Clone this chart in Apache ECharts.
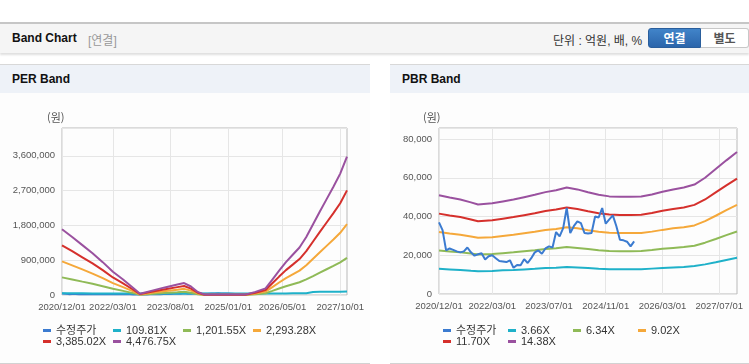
<!DOCTYPE html>
<html lang="ko">
<head>
<meta charset="utf-8" />
<title>Band Chart</title>
<style>
  body { margin: 0; width: 749px; height: 364px; overflow: hidden; background: #fff; position: relative;
         font-family: 'Liberation Sans', Arial, 'Noto Sans CJK KR', sans-serif; color: #222; }
  .bar { position: absolute; left: 0; top: 22px; width: 749px; height: 31px; background: #f5f5f5;
         border-top: 2px solid #c6c6c6; box-sizing: border-box; box-shadow: 0 2px 2px rgba(0,0,0,0.13); }
  .bar .title { position: absolute; left: 12px; top: 7px; font-size: 12px; font-weight: bold; color: #111; }
  .bar .sub { position: absolute; left: 88px; top: 7px; font-size: 12px; color: #999; }
  .bar .unit { position: absolute; left: 553px; top: 7px; font-size: 12px; color: #333; }
  .btn { position: absolute; top: 4px; height: 20px; line-height: 20px; box-sizing: border-box; text-align: center;
         font-size: 12px; font-weight: bold; }
  .btn.on { left: 648px; width: 53px; color: #fff; background: linear-gradient(#4184c9, #2b65ab);
            border: 1px solid #2a5e9c; border-radius: 3px 0 0 3px; }
  .btn.off { left: 701px; width: 48px; color: #555; background: #fff; border: 1px solid #c8c8c8; border-left: none;
             border-radius: 0 3px 3px 0; }
  .panel { position: absolute; top: 64px; height: 300px; box-sizing: border-box; border-top: 1px solid #d8d8d8;
           border-bottom: 1px solid #d2d2d2; background: #fdfdfd; }
  .panel .head { height: 28px; background: #eef2f8; font-size: 12px; font-weight: bold; color: #111;
                 line-height: 28px; padding-left: 12px; }
  .ec { position: absolute; top: 93px; height: 270px; }
</style>
</head>
<body>
<div class="bar">
  <span class="title">Band Chart</span><span class="sub">[연결]</span>
  <span class="unit">단위 : 억원, 배, %</span>
  <div class="btn on">연결</div><div class="btn off">별도</div>
</div>
<div class="panel" style="left:0;width:370px"><div class="head">PER Band</div></div>
<div class="panel" style="left:390px;width:359px"><div class="head">PBR Band</div></div>
<div id="per" class="ec" style="left:0;width:370px"></div>
<div id="pbr" class="ec" style="left:390px;width:359px"></div>

<script src="https://cdn.jsdelivr.net/npm/echarts@6/dist/echarts.min.js"></script>
<script>
// monthly categories 2020/12 ~ 2027/12
const months = [];
for (let i = 0; i <= 84; i++) {
  const y = 2020 + Math.floor((11 + i) / 12);
  const m = (11 + i) % 12 + 1;
  months.push(y + '/' + String(m).padStart(2, '0') + '/01');
}

const perTicks = ['2020/12/01', '2022/03/01', '2023/08/01', '2025/01/01', '2026/05/01', '2027/10/01'];
const pbrTicks = ['2020/12/01', '2022/03/01', '2023/07/01', '2024/11/01', '2026/03/01', '2027/07/01'];

const colors = ['#3b7bd0', '#1fb1c9', '#8fba57', '#f5a83a', '#d5302c', '#9a519f'];
const perNames = ['수정주가', '109.81X', '1,201.55X', '2,293.28X', '3,385.02X', '4,476.75X'];
const pbrNames = ['수정주가', '3.66X', '6.34X', '9.02X', '11.70X', '14.38X'];

// 수정주가 (monthly from 2020/12)
const price = [37000, 33000, 22500, 23500, 22800, 22000, 21500, 22000, 24000, 21500,
  19800, 20500, 21000, 17800, 19500, 20000, 18500, 17000, 16800, 16500,
  17400, 13500, 15000, 14800, 18000, 16000, 18500, 21500, 22500, 20800,
  23500, 24600, 24000, 32000, 29800, 34000, 44400, 31500, 35000, 37500,
  36600, 31500, 31200, 31500, 40000, 39500, 44400, 36300, 38500, 40600,
  35000, 28000, 27700, 27000, 24600, 27200];

// PER band
const perDates = ['2020/12/01', '2021/03/01', '2021/06/01', '2021/09/01', '2021/12/01', '2022/03/01', '2022/06/01',
  '2022/09/01', '2022/11/01', '2023/02/01', '2023/06/01', '2023/10/01', '2023/12/01', '2024/02/01', '2024/04/01',
  '2024/06/01', '2024/12/01', '2025/06/01', '2025/09/01', '2025/12/01', '2026/02/01', '2026/04/01', '2026/06/01',
  '2026/08/01', '2026/10/01', '2026/12/01', '2027/02/01', '2027/04/01', '2027/06/01', '2027/08/01', '2027/10/01', '2027/12/01'];
const per109 = [45000, 44000, 43000, 42000, 41000, 40000, 40000, 39000, 38000, 38000, 38000, 38000, 38000, 38000, 38000,
  38000, 38000, 38000, 38000, 40000, 40000, 42000, 42000, 44000, 44000, 46000, 80000, 82000, 84000, 85000, 86000, 88000];
const per1201 = [456000, 403000, 346000, 290000, 228000, 161000, 107000, 48000, 8000, 27000, 51000, 72000, 83000, 59000, 21000,
  3000, 3000, 3000, 21000, 46000, 107000, 169000, 228000, 279000, 330000, 403000, 491000, 580000, 666000, 752000, 843000, 961000];
const per2293 = [871000, 768000, 661000, 553000, 435000, 307000, 205000, 92000, 15000, 51000, 97000, 138000, 159000, 113000, 41000,
  5000, 5000, 5000, 41000, 87000, 205000, 323000, 435000, 533000, 630000, 768000, 938000, 1107000, 1271000, 1434000, 1609000, 1834000];
const per3385 = [1285000, 1134000, 975000, 817000, 643000, 454000, 302000, 136000, 23000, 76000, 144000, 204000, 234000, 166000, 60000,
  8000, 8000, 8000, 60000, 129000, 302000, 476000, 643000, 786000, 930000, 1134000, 1384000, 1633000, 1875000, 2117000, 2374000, 2707000];
const per4476 = [1700000, 1500000, 1290000, 1080000, 850000, 600000, 400000, 180000, 30000, 100000, 190000, 270000, 310000, 220000, 80000,
  10000, 10000, 10000, 80000, 170000, 400000, 630000, 850000, 1040000, 1230000, 1500000, 1830000, 2160000, 2480000, 2800000, 3140000, 3580000];

// PBR band
const pbrDates = ['2020/12/01', '2021/03/01', '2021/06/01', '2021/09/01', '2021/11/01', '2022/03/01', '2022/06/01', '2022/09/01',
  '2022/12/01', '2023/03/01', '2023/06/01', '2023/09/01', '2023/12/01', '2024/03/01', '2024/06/01', '2024/09/01', '2024/12/01',
  '2025/03/01', '2025/06/01', '2025/09/01', '2025/12/01', '2026/03/01', '2026/06/01', '2026/09/01', '2026/12/01', '2027/03/01',
  '2027/06/01', '2027/09/01', '2027/12/01'];
const pbr366 = [13000, 12700, 12400, 12000, 11800, 11900, 12200, 12400, 12700, 13000, 13400, 13600, 14000, 13700, 13400,
  13000, 12800, 12800, 12800, 12800, 13100, 13400, 13700, 14000, 14400, 15300, 16400, 17600, 18700];
const pbr634 = [22500, 22000, 21500, 20900, 20400, 20600, 21100, 21500, 22100, 22600, 23200, 23600, 24300, 23800, 23200,
  22600, 22200, 22100, 22100, 22200, 22700, 23300, 23800, 24300, 24900, 26500, 28400, 30400, 32300];
const pbr902 = [32000, 31200, 30600, 29700, 29000, 29300, 30000, 30600, 31400, 32100, 33000, 33600, 34500, 33900, 32900,
  32100, 31600, 31500, 31500, 31500, 32200, 33100, 33900, 34500, 35400, 37600, 40400, 43300, 46000];
const pbr1170 = [41500, 40500, 39700, 38500, 37600, 38100, 38900, 39700, 40700, 41700, 42800, 43600, 44700, 43900, 42700,
  41700, 41000, 40800, 40800, 40900, 41800, 43000, 43900, 44700, 46000, 48800, 52500, 56100, 59600];
const pbr1438 = [51000, 49800, 48800, 47300, 46200, 46800, 47800, 48800, 50000, 51200, 52600, 53600, 55000, 54000, 52500,
  51200, 50400, 50200, 50200, 50300, 51400, 52800, 54000, 55000, 56500, 60000, 64500, 69000, 73300];

const pairs = (dates, vals) => dates.map((d, i) => [d, vals[i]]);

function makeOption(c) {
  const tickFn = (idx, val) => c.ticks.indexOf(val) >= 0;
  const bands = [c.b1, c.b2, c.b3, c.b4, c.b5];
  const series = [{
    name: c.names[0], type: 'line', data: price, showSymbol: false, z: c.priceZ,
    lineStyle: { width: 2, color: colors[0] }, itemStyle: { color: colors[0] }
  }];
  bands.forEach((b, i) => {
    series.push({
      name: c.names[i + 1], type: 'line', data: pairs(c.dates, b), showSymbol: false,
      lineStyle: { width: 2, color: colors[i + 1] }, itemStyle: { color: colors[i + 1] }
    });
  });
  return {
    animation: false,
    grid: { left: c.left, top: 35, width: c.width, height: c.height, show: true, borderColor: '#b9b9b9', borderWidth: 1 },
    graphic: [{ type: 'text', left: c.unitX, top: 19, style: { text: '(원)', fill: '#555', font: '11px "Noto Sans CJK KR", sans-serif' } }],
    legend: {
      left: c.legendLeft, top: 232, width: c.legendWidth, padding: 0, itemGap: 0,
      icon: 'rect', itemWidth: 8, itemHeight: 3,
      formatter: n => '{a|' + n + '}',
      textStyle: { rich: { a: { width: c.legendText, lineHeight: 13, fontSize: 11, color: '#333',
        fontFamily: "'Liberation Sans', Arial, 'Noto Sans CJK KR', sans-serif" } } }
    },
    xAxis: {
      type: 'category', data: months, boundaryGap: false,
      axisLine: { show: false }, axisTick: { show: false },
      axisLabel: { interval: tickFn, color: '#555', fontSize: 9.5, margin: 7 },
      splitLine: { show: true, interval: tickFn, lineStyle: { color: '#e6e6e6' } }
    },
    yAxis: {
      type: 'value', min: 0, max: c.max, interval: c.interval,
      axisLine: { show: false }, axisTick: { show: false },
      axisLabel: { color: '#555', fontSize: 9.5, margin: 7, showMaxLabel: false,
        formatter: v => v.toLocaleString('en-US') },
      splitLine: { lineStyle: { color: '#e6e6e6' } }
    },
    series: series
  };
}

const perChart = echarts.init(document.getElementById('per'));
perChart.setOption(makeOption({
  left: 62, width: 285, height: 167, max: 4320000, interval: 900000, unitX: 47,
  legendLeft: 43, legendWidth: 285, legendText: 57, priceZ: 1,
  ticks: perTicks, names: perNames, dates: perDates,
  b1: per109, b2: per1201, b3: per2293, b4: per3385, b5: per4476
}));

const pbrChart = echarts.init(document.getElementById('pbr'));
pbrChart.setOption(makeOption({
  left: 49, width: 298, height: 166, max: 85700, interval: 20000, unitX: 33,
  legendLeft: 53, legendWidth: 265, legendText: 52, priceZ: 5,
  ticks: pbrTicks, names: pbrNames, dates: pbrDates,
  b1: pbr366, b2: pbr634, b3: pbr902, b4: pbr1170, b5: pbr1438
}));
</script>
</body>
</html>
